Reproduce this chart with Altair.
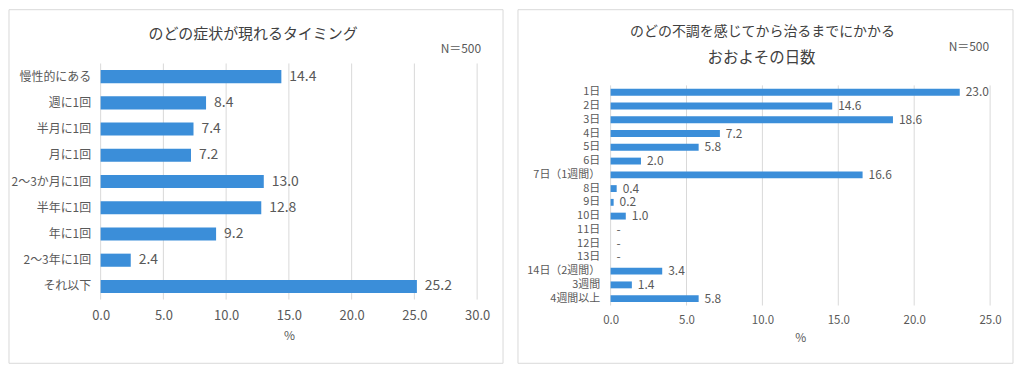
import altair as alt
import pandas as pd

# ---- data ----
left_cats = ["慢性的にある", "週に1回", "半月に1回", "月に1回", "2～3か月に1回",
             "半年に1回", "年に1回", "2～3年に1回", "それ以下"]
left_vals = [14.4, 8.4, 7.4, 7.2, 13.0, 12.8, 9.2, 2.4, 25.2]

right_cats = ["1日", "2日", "3日", "4日", "5日", "6日", "7日（1週間）", "8日", "9日",
              "10日", "11日", "12日", "13日", "14日（2週間）", "3週間", "4週間以上"]
right_vals = [23.0, 14.6, 18.6, 7.2, 5.8, 2.0, 16.6, 0.4, 0.2,
              1.0, 0.0, 0.0, 0.0, 3.4, 1.4, 5.8]

left_ticks = [0, 5, 10, 15, 20, 25, 30]
right_ticks = [0, 5, 10, 15, 20, 25]

left_title = "のどの症状が現れるタイミング"
right_title = ["のどの不調を感じてから治るまでにかかる", "おおよその日数"]
n_text = "N＝500"

FONT = "Noto Sans CJK JP"
BAR = "#3B8ED9"
TXT = "#595959"
TTL = "#404040"
GRID = "#d9d9d9"


def fmt(v):
    return "-" if v == 0 else f"{v:.1f}"


ldf = pd.DataFrame({"cat": left_cats, "val": left_vals,
                    "lab": [fmt(v) for v in left_vals]})
rdf = pd.DataFrame({"cat": right_cats, "val": right_vals,
                    "lab": [fmt(v) for v in right_vals]})

one = alt.Data(values=[{"a": 1}])


def panel(df, cats, ticks, width, height, band_top, lab_fs, tick_fs, data_fs, dx,
          label_pad, tick_pad, title_pad, border, titles, n_pos):
    xmax = ticks[-1]
    xscale = alt.Scale(domain=[0, xmax], nice=False)
    xaxis = alt.Axis(values=ticks, format=".1f",
                     grid=False, domain=False, ticks=False,
                     labelFlush=False,
                     labelFontSize=tick_fs, labelColor=TXT, labelPadding=tick_pad,
                     title="%", titleFontSize=12, titleFontWeight="normal",
                     titleColor=TXT, titlePadding=title_pad)
    y = alt.Y("cat:N", sort=cats,
              scale=alt.Scale(paddingInner=0.5, paddingOuter=0.25,
                              range=[band_top, height]),
              axis=alt.Axis(domain=False, ticks=False, grid=False, title=None,
                            labelFontSize=lab_fs, labelColor=TXT,
                            labelPadding=label_pad, labelLimit=300))
    tdf = pd.DataFrame({"val": ticks})
    grid = alt.Chart(tdf).mark_rule(color=GRID, strokeWidth=1).encode(
        x=alt.X("val:Q", scale=xscale, axis=xaxis),
        y=alt.value(band_top), y2=alt.value(height))
    bars = alt.Chart(df).mark_bar(color=BAR).encode(
        x=alt.X("val:Q", scale=xscale, axis=xaxis), y=y)
    labels = alt.Chart(df).mark_text(align="left", baseline="middle", dx=dx,
                                     fontSize=data_fs, color=TXT, font=FONT).encode(
        x="val:Q", y=alt.Y("cat:N", sort=cats), text="lab:N")
    bx, bx2, by, by2 = border
    frame = alt.Chart(one).mark_rect(filled=False, stroke=GRID, strokeWidth=1).encode(
        x=alt.value(bx), x2=alt.value(bx2), y=alt.value(by), y2=alt.value(by2))
    layers = [frame, grid, bars, labels]
    for (t, tx, ty, fs) in titles:
        layers.append(alt.Chart(one).mark_text(
            text=t, align="center", baseline="middle", fontSize=fs, color=TTL,
            font=FONT).encode(x=alt.value(tx), y=alt.value(ty)))
    nx, ny = n_pos
    layers.append(alt.Chart(one).mark_text(
        text=n_text, align="right", baseline="middle", fontSize=12, color=TXT,
        font=FONT).encode(x=alt.value(nx), y=alt.value(ny)))
    return alt.layer(*layers).properties(width=width, height=height)


# both plot origins sit at the same y (page y = 62)
left = panel(ldf, left_cats, left_ticks, 378, 237, 0, 12, 13, 14, 8, 10, 10, 8,
             (-92, 404, -54, 301),
             [(left_title, 153, -30, 15)], (382, -15))
right = panel(rdf, right_cats, right_ticks, 381, 243, 22, 11, 11.5, 12, 6, 11, 9, 7,
              (-93, 404, -54, 301),
              [(right_title[0], 152.5, -32, 14), (right_title[1], 151.5, -5, 15.5)],
              (380, -17))

chart = alt.concat(left, right, columns=2, spacing=13).properties(
    padding=0).configure(font=FONT).configure_view(stroke=None)

chart.save("out.html", embed_options={"renderer": "svg", "actions": False})
